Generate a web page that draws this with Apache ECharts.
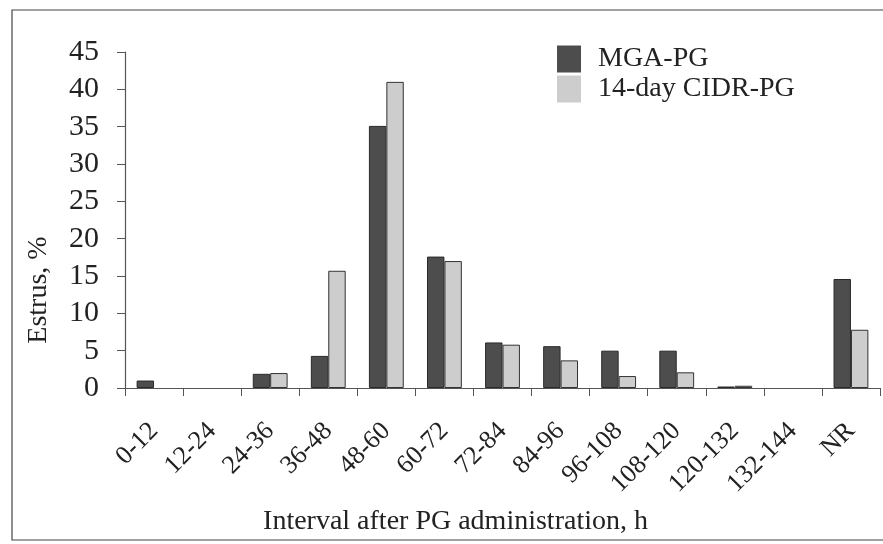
<!DOCTYPE html>
<html>
<head>
<meta charset="utf-8">
<script src="https://cdn.jsdelivr.net/npm/echarts@6/dist/echarts.min.js"></script>
<style>
  html, body { margin: 0; padding: 0; background: #fff; }
  #chart { width: 883px; height: 544px; }
</style>
</head>
<body>
<div id="chart"></div>
<script>
var categories = ['0-12', '12-24', '24-36', '36-48', '48-60', '60-72', '72-84',
    '84-96', '96-108', '108-120', '120-132', '132-144', 'NR'];
var mgaPg = [1.0, 0, 1.9, 4.3, 35.1, 17.6, 6.1, 5.6, 5.0, 5.0, 0.2, 0, 14.6];
var cidrPg = [0, 0, 2.0, 15.7, 41.0, 17.0, 5.8, 3.7, 1.6, 2.1, 0.3, 0, 7.8];
var yTicks = [0, 5, 10, 15, 20, 25, 30, 35, 40, 45];

var chart = echarts.init(document.getElementById('chart'));
var serif = '"Liberation Serif", "DejaVu Serif", serif';

// zero bars are not drawn in the original
function noZero(arr) {
    return arr.map(v => v === 0 ? null : v);
}

option = {
    animation: false,
    textStyle: { fontFamily: serif, color: '#222' },
    graphic: [{
        type: 'rect',
        shape: { x: 12, y: 10, width: 900, height: 530 },
        style: { fill: 'none', stroke: '#444', lineWidth: 1.2 },
        silent: true
    }],
    legend: {
        orient: 'vertical',
        left: 552,
        top: 40,
        icon: 'rect',
        itemWidth: 24,
        itemHeight: 27,
        itemGap: 2,
        itemStyle: { borderWidth: 0 },
        textStyle: { fontFamily: serif, fontSize: 28, color: '#222', padding: [0, 0, 0, 12] },
        data: ['MGA-PG', '14-day CIDR-PG']
    },
    grid: {
        left: 125,
        right: 3,
        top: 52,
        bottom: 156
    },
    xAxis: {
        type: 'category',
        data: categories,
        name: 'Interval after PG administration, h',
        nameLocation: 'middle',
        nameGap: 120,
        nameTextStyle: { fontFamily: serif, fontSize: 28, color: '#222', padding: [0, 94, 0, 0] },
        axisLine: { lineStyle: { color: '#555', width: 1.2 } },
        axisTick: { show: true, length: 8, lineStyle: { color: '#555' } },
        axisLabel: {
            rotate: 45,
            fontFamily: serif,
            fontSize: 26,
            color: '#222',
            margin: 39,
            interval: 0
        }
    },
    yAxis: {
        type: 'value',
        min: yTicks[0],
        max: yTicks[yTicks.length - 1],
        interval: 5,
        name: 'Estrus, %',
        nameLocation: 'middle',
        nameGap: 72,
        nameTextStyle: { fontFamily: serif, fontSize: 28, color: '#222', padding: [0, 140, 0, 0] },
        axisLine: { show: true, lineStyle: { color: '#555', width: 1.2 } },
        axisTick: { show: true, inside: false, length: 8, lineStyle: { color: '#555' } },
        splitLine: { show: false },
        axisLabel: { fontFamily: serif, fontSize: 30, color: '#222', margin: 26 }
    },
    series: [
        {
            name: 'MGA-PG',
            type: 'bar',
            data: noZero(mgaPg),
            barCategoryGap: '40%',
            barGap: '0%',
            itemStyle: { color: '#4d4d4d', borderColor: '#2a2a2a', borderWidth: 1 }
        },
        {
            name: '14-day CIDR-PG',
            type: 'bar',
            data: noZero(cidrPg),
            itemStyle: { color: '#cdcdcd', borderColor: '#333', borderWidth: 1 }
        }
    ]
};

chart.setOption(option);
</script>
</body>
</html>
